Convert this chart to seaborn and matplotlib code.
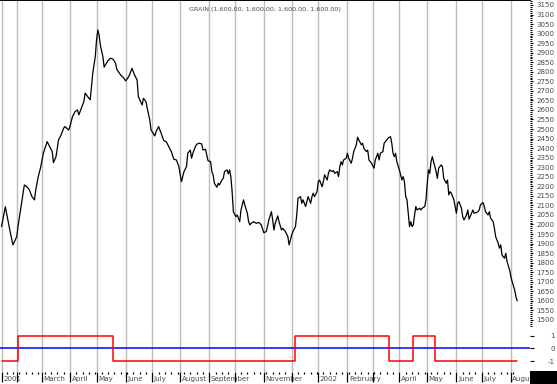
import numpy as np
import pandas as pd
import matplotlib
matplotlib.use("Agg")
import matplotlib.pyplot as plt
import matplotlib.transforms as mtrans
from matplotlib.patches import Rectangle
import seaborn as sns

# trading days shown on the chart
dates = pd.bdate_range("2001-01-16", "2002-08-08")

# closing prices (trading-day index, price)
price_day = [
    0, 3, 5, 7, 9, 12, 13, 15, 18, 20,
    22, 24, 26, 27, 29, 31, 33, 36, 38, 40,
    41, 43, 45, 47, 49, 50, 53, 54, 56, 58,
    60, 61, 63, 65, 66, 68, 70, 71, 72, 74,
    75, 76, 77, 78, 80, 81, 82, 84, 86, 88,
    90, 91, 94, 96, 98, 100, 101, 103, 105, 107,
    108, 111, 112, 114, 115, 117, 118, 121, 122, 124,
    126, 128, 130, 132, 134, 136, 138, 140, 142, 143,
    144, 146, 147, 149, 150, 151, 153, 154, 156, 158,
    159, 161, 162, 163, 165, 166, 167, 168, 170, 171,
    172, 174, 175, 176, 178, 179, 180, 181, 182, 183,
    185, 186, 188, 189, 191, 192, 194, 195, 196, 197,
    199, 201, 203, 205, 207, 209, 211, 213, 214, 215,
    216, 218, 219, 221, 222, 224, 226, 227, 229, 230,
    232, 233, 234, 236, 237, 238, 240, 241, 242, 244,
    245, 246, 247, 249, 250, 251, 253, 254, 255, 257,
    258, 259, 261, 262, 263, 265, 266, 267, 268, 269,
    270, 272, 273, 274, 276, 277, 278, 280, 281, 282,
    284, 285, 286, 288, 289, 290, 292, 293, 294, 295,
    297, 298, 299, 301, 302, 303, 305, 306, 307, 308,
    309, 310, 311, 312, 314, 315, 316, 317, 318, 319,
    320, 321, 322, 323, 324, 325, 326, 327, 328, 330,
    331, 332, 334, 335, 336, 337, 338, 339, 340, 341,
    343, 344, 345, 347, 348, 349, 351, 352, 353, 354,
    355, 357, 358, 359, 360, 361, 363, 364, 365, 367,
    368, 369, 371, 372, 373, 375, 376, 377, 378, 380,
    381, 382, 384, 385, 386, 388, 389, 390, 392, 393,
    394, 395, 397, 398, 399, 401, 402, 403, 405, 406,
    407,
]
price_close = [
    1989, 2093, 2024, 1956, 1893, 1936, 1989, 2076, 2207, 2198,
    2181, 2146, 2129, 2181, 2251, 2303, 2373, 2434, 2408, 2382,
    2324, 2355, 2443, 2469, 2504, 2513, 2495, 2513, 2565, 2591,
    2600, 2574, 2609, 2644, 2688, 2670, 2653, 2722, 2792, 2879,
    2967, 3019, 2993, 2940, 2879, 2824, 2836, 2858, 2871, 2866,
    2845, 2813, 2783, 2771, 2752, 2771, 2783, 2818, 2783, 2757,
    2670, 2626, 2661, 2644, 2609, 2548, 2495, 2464, 2487, 2513,
    2478, 2440, 2434, 2408, 2382, 2342, 2338, 2303, 2224, 2251,
    2277, 2303, 2373, 2390, 2347, 2373, 2408, 2420, 2426, 2422,
    2390, 2394, 2364, 2334, 2329, 2277, 2260, 2216, 2195, 2216,
    2207, 2233, 2242, 2277, 2286, 2265, 2286, 2251, 2172, 2067,
    2041, 2050, 2015, 2076, 2129, 2103, 2059, 2015, 1998, 2006,
    2015, 2006, 2011, 1998, 1957, 1963, 2024, 2067, 2024, 1971,
    2006, 2045, 2015, 1971, 1980, 1963, 1936, 1893, 1945, 1963,
    1989, 2050, 2137, 2146, 2111, 2129, 2094, 2120, 2146, 2111,
    2146, 2164, 2146, 2172, 2224, 2233, 2198, 2224, 2260, 2233,
    2268, 2286, 2277, 2282, 2268, 2277, 2251, 2303, 2329, 2312,
    2338, 2347, 2373, 2347, 2321, 2347, 2382, 2417, 2457, 2443,
    2417, 2426, 2399, 2382, 2390, 2338, 2321, 2307, 2295, 2338,
    2373, 2338, 2373, 2382, 2426, 2434, 2452, 2457, 2460, 2426,
    2373, 2355, 2373, 2329, 2286, 2260, 2233, 2251, 2224, 2146,
    2129, 2059, 1989, 2015, 1989, 1998, 2050, 2094, 2076, 2085,
    2076, 2085, 2094, 2129, 2216, 2286, 2268, 2329, 2355, 2329,
    2277, 2242, 2295, 2312, 2303, 2242, 2216, 2233, 2155, 2172,
    2164, 2129, 2094, 2059, 2111, 2120, 2085, 2041, 2024, 2050,
    2076, 2028, 2059, 2076, 2059, 2063, 2067, 2076, 2103, 2115,
    2094, 2067, 2050, 2067, 2033, 2015, 1980, 1936, 1902, 1876,
    1893, 1840, 1823, 1849, 1805, 1762, 1727, 1701, 1657, 1622,
    1600,
]

# +1 / -1 signal, value holds from each change day
signal_day = [0, 13, 88, 232, 306, 325, 342, 407]
signal_value = [-1, 1, -1, 1, -1, 1, -1, -1]

# one label per month start, blank where the chart skips it
month_labels = ["2001", "", "March", "April", "May", "June", "July",
                "August", "September", "", "November", "", "2002",
                "February", "", "April", "May", "June", "July", "August"]

price_ticks = list(range(1500, 3151, 50))
signal_ticks = [1, 0, -1]

title = "GRAIN (1,600.00, 1,600.00, 1,600.00, 1,600.00)"


def main():
    sns.set_style("white")
    plt.rcParams["font.family"] = ["DejaVu Sans"]

    W, H = 557, 384
    fig = plt.figure(figsize=(W / 100, H / 100), dpi=100)
    ax_p = fig.add_axes([0, 1 - 327 / H, 530 / W, 327 / H])
    ax_s = fig.add_axes([0, 1 - 372 / H, 530 / W, 45 / H], sharex=ax_p)

    per_m = dates.to_period("M")
    month_pos = np.flatnonzero(np.r_[True, per_m[1:] != per_m[:-1]])
    per_w = dates.to_period("W")
    week_pos = np.flatnonzero(np.r_[True, per_w[1:] != per_w[:-1]])

    txt = "#4a4a4a"
    grid = "#bcbcbc"

    # price panel
    sns.lineplot(x=price_day, y=price_close, ax=ax_p, color="black",
                 linewidth=0.9, zorder=3)
    ax_p.set_ylim(1463, 3176)
    ax_p.set_xlim(-1.2, 417.1)
    ax_p.yaxis.tick_right()
    ax_p.set_yticks(price_ticks, labels=[str(t) for t in price_ticks],
                    ha="right")
    ax_p.set_yticks(list(range(1470, 3180, 10)), minor=True)
    ax_p.tick_params(axis="y", which="major", right=True, length=2.3,
                     width=0.8, color="black", pad=15.5, labelsize=5.1,
                     labelcolor=txt)
    ax_p.tick_params(axis="y", which="minor", right=True, length=1.2,
                     width=0.8, color="black")
    ax_p.tick_params(axis="x", which="both", length=0, labelbottom=False)

    # signal panel
    ax_s.axhline(0, color="#0000ff", linewidth=1.1, zorder=2)
    sns.lineplot(x=signal_day, y=signal_value, ax=ax_s, color="#ff0000",
                 linewidth=1.1, drawstyle="steps-post", zorder=3)
    ax_s.set_ylim(-1.83, 1.66)
    ax_s.yaxis.tick_right()
    ax_s.set_yticks(signal_ticks, labels=[str(t) for t in signal_ticks],
                    ha="right")
    ax_s.tick_params(axis="y", which="major", right=True, length=3,
                     width=0.8, color="black", pad=15, labelsize=5.1,
                     labelcolor=txt)

    ax_s.set_xticks(month_pos, labels=month_labels, ha="left")
    ax_s.set_xticks(week_pos, minor=True)
    ax_s.tick_params(axis="x", which="major", bottom=True, length=7.2,
                     width=0.9, color="black", pad=-4.6, labelsize=5.1,
                     labelcolor=txt)
    ax_s.tick_params(axis="x", which="minor", bottom=True, length=1.6,
                     width=0.9, color="black")
    shift = mtrans.ScaledTranslation(1.5 / 100, 0, fig.dpi_scale_trans)
    for lbl in ax_s.get_xticklabels():
        lbl.set_transform(lbl.get_transform() + shift)

    for ax in (ax_p, ax_s):
        ax.set_xlabel("")
        ax.set_ylabel("")
        ax.grid(axis="x", which="major", color=grid, linewidth=1.0)
        ax.grid(axis="y", visible=False)
        ax.grid(axis="x", which="minor", visible=False)
        for side in ("left", "right", "bottom", "top"):
            ax.spines[side].set_visible(False)
        ax.patch.set_alpha(0)

    ax_p.spines["top"].set_visible(True)
    ax_p.spines["top"].set_color("black")
    ax_p.spines["top"].set_linewidth(1.4)

    fig.text(264.5 / W, 1 - 9 / H, title, ha="center", va="center",
             fontsize=4.6, color=txt)

    fig.add_artist(Rectangle((530 / W, 0), 27 / W, 13 / H,
                             transform=fig.transFigure, facecolor="black",
                             edgecolor="none", zorder=10))

    fig.savefig("out.png", dpi=100)


if __name__ == "__main__":
    main()
